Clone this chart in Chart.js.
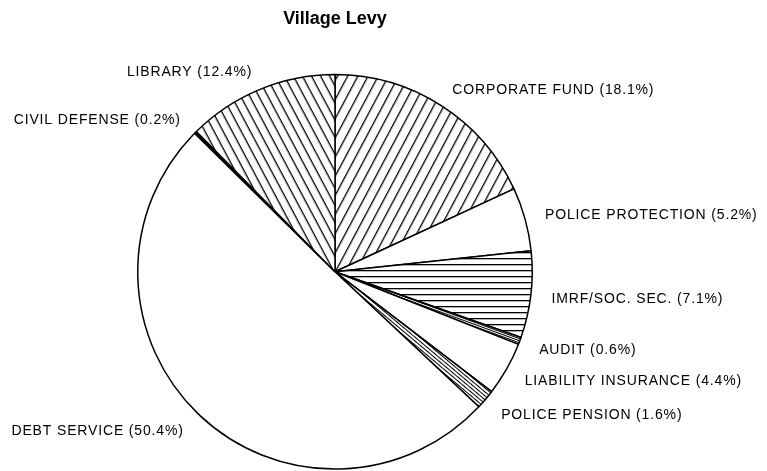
<!DOCTYPE html>
<html lang="en">
<head>
    <meta charset="UTF-8">
    <title>Village Levy</title>
    <script src="https://cdn.jsdelivr.net/npm/chart.js"></script>
    <style>
        html, body { margin: 0; padding: 0; background: #fff; }
        #wrap { width: 767px; height: 471px; }
    </style>
</head>
<body>
    <div id="wrap"><canvas id="levyChart" width="767" height="471"></canvas></div>
    <script>
        // data, clockwise from 12 o'clock
        const funds = ['CORPORATE FUND', 'POLICE PROTECTION', 'IMRF/SOC. SEC.', 'AUDIT',
            'LIABILITY INSURANCE', 'POLICE PENSION', 'DEBT SERVICE', 'CIVIL DEFENSE', 'LIBRARY'];
        const shares = [18.1, 5.2, 7.1, 0.6, 4.4, 1.6, 50.4, 0.2, 12.4];

        // hatch: horizontal lines tile, rotated by angle (deg), spacing in px
        function hatch(angle, spacing, width) {
            const tile = document.createElement('canvas');
            tile.width = 8;
            tile.height = spacing;
            const t = tile.getContext('2d');
            t.fillStyle = '#fff';
            t.fillRect(0, 0, 8, spacing);
            t.fillStyle = '#000';
            t.fillRect(0, 0, 8, width);
            const p = t.createPattern(tile, 'repeat');
            p.setTransform(new DOMMatrix().rotate(angle));
            return p;
        }

        const fills = [
            hatch(-62, 9, 1.3),   // corporate fund
            '#ffffff',            // police protection
            hatch(0, 6, 1.3),     // imrf
            hatch(20, 2, 1),      // audit
            '#ffffff',            // liability
            hatch(40, 3, 1),      // police pension
            '#ffffff',            // debt service
            '#000000',            // civil defense
            hatch(62, 8, 1.3)     // library
        ];

        const outsideLabels = {
            id: 'outsideLabels',
            afterDatasetsDraw(chart) {
                const ctx = chart.ctx;
                const arcs = chart.getDatasetMeta(0).data;
                ctx.save();
                ctx.font = '14px "Liberation Sans", Arial, sans-serif';
                ctx.letterSpacing = '0.85px';
                ctx.fillStyle = '#000';
                ctx.textBaseline = 'middle';
                arcs.forEach((arc, i) => {
                    const p = arc.getProps(['x', 'y', 'startAngle', 'endAngle', 'outerRadius'], true);
                    const mid = (p.startAngle + p.endAngle) / 2;
                    const r = p.outerRadius * 1.105;
                    const x = p.x + Math.cos(mid) * r;
                    const y = p.y + Math.sin(mid) * r + 2;
                    ctx.textAlign = Math.cos(mid) >= 0 ? 'left' : 'right';
                    ctx.fillText(funds[i] + ' (' + shares[i].toFixed(1) + '%)', x, y);
                });
                ctx.restore();
            }
        };

        new Chart(document.getElementById('levyChart'), {
            type: 'pie',
            data: {
                labels: funds,
                datasets: [{
                    data: shares,
                    backgroundColor: fills,
                    borderColor: '#000',
                    borderWidth: 1.5
                }]
            },
            options: {
                responsive: false,
                animation: false,
                layout: { padding: { left: 137, right: 234, top: 0, bottom: 1 } },
                plugins: {
                    legend: { display: false },
                    tooltip: { enabled: false },
                    title: {
                        display: true,
                        text: 'Village Levy',
                        color: '#000',
                        font: { family: '"Liberation Sans", Arial, sans-serif', size: 18, weight: 'bold' },
                        padding: { top: 8, bottom: 44 }
                    }
                }
            },
            plugins: [outsideLabels]
        });
    </script>
</body>
</html>
